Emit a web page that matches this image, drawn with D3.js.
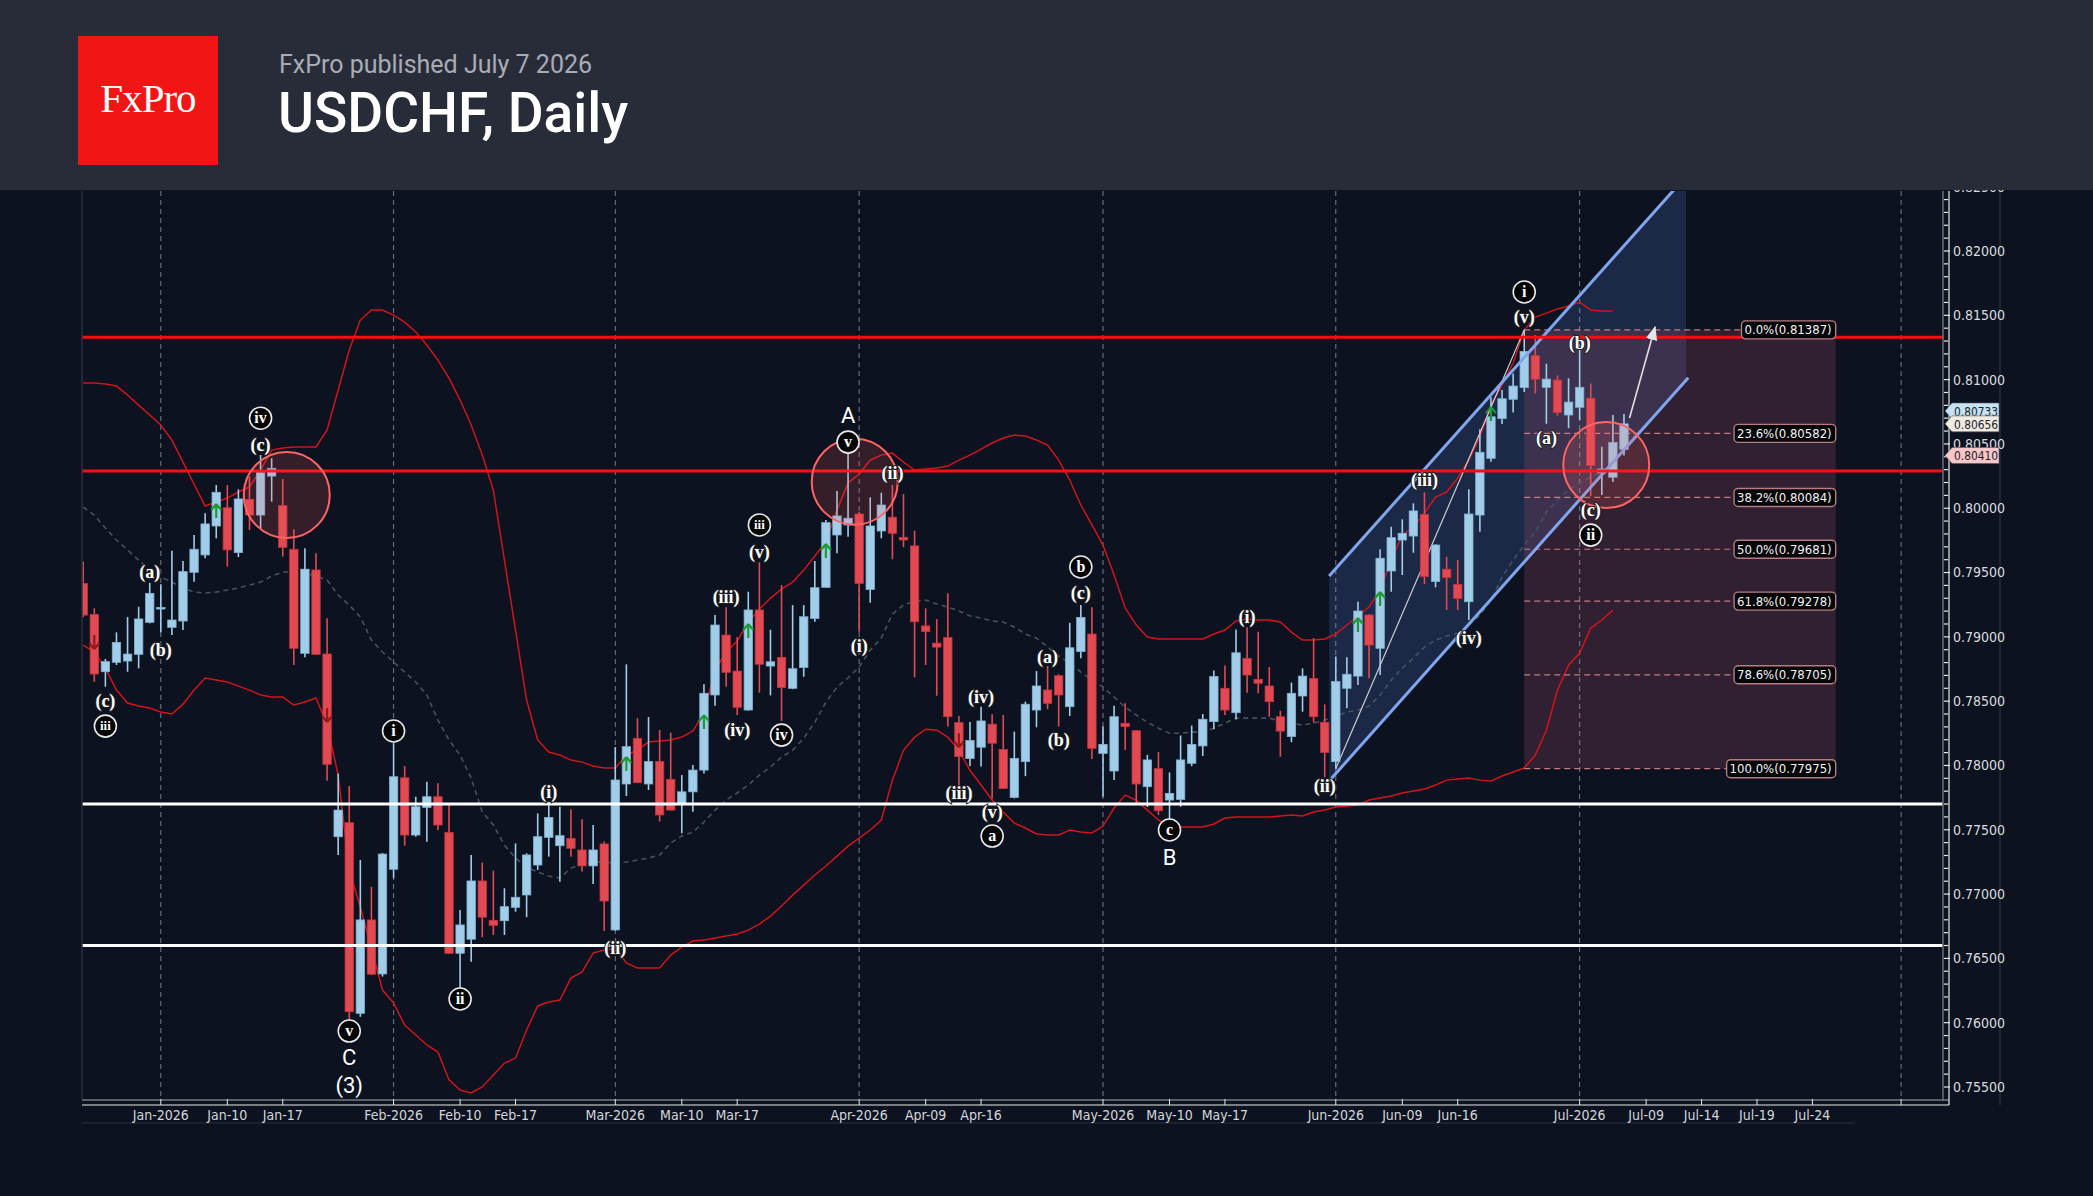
<!DOCTYPE html>
<html><head><meta charset="utf-8">
<script src="https://cdn.jsdelivr.net/npm/d3@7"></script>
<style>
html,body{margin:0;padding:0;background:#0c1220;}
svg{display:block;}
</style></head><body>
<svg id="c" width="2093" height="1196"></svg>
<script>
// ---------------- DATA ----------------
const open=[0.79416,0.79175,0.78729,0.78802,0.78812,0.78864,0.79113,0.79222,0.79074,0.79123,
0.79502,0.79637,0.79862,0.80004,0.79655,0.80069,0.79947,0.80250,0.80020,0.79681,
0.78872,0.79520,0.78867,0.77446,0.77555,0.76073,0.76799,0.76379,0.77193,0.77904,
0.77459,0.77674,0.77757,0.77480,0.76540,0.76649,0.77102,0.76796,0.76793,0.76897,
0.76993,0.77226,0.77441,0.77376,0.77433,0.77343,0.77219,0.77390,0.76721,0.77856,
0.78211,0.77856,0.78030,0.77892,0.77705,0.77795,0.77964,0.78548,0.79014,0.78734,
0.78431,0.79209,0.78773,0.78840,0.78600,0.78762,0.79143,0.79385,0.79792,0.79870,
0.79955,0.79369,0.79823,0.79930,0.79774,0.79707,0.79085,0.78951,0.78995,0.78333,
0.78054,0.78142,0.78321,0.78125,0.77752,0.78030,0.78431,0.78587,0.78698,0.78457,
0.78886,0.79022,0.78094,0.77957,0.78328,0.78270,0.77835,0.77975,0.77731,0.77736,
0.78017,0.78152,0.78341,0.78600,0.78410,0.78833,0.78670,0.78618,0.78379,0.78225,
0.78540,0.78677,0.78336,0.78030,0.78600,0.78695,0.79170,0.78911,0.79512,0.79753,
0.79784,0.79953,0.79430,0.79526,0.79408,0.79273,0.79947,0.80388,0.80697,0.80847,
0.80938,0.81186,0.80940,0.80997,0.80725,0.80785,0.80856,0.80274,0.80241,0.80458];
const high=[0.79584,0.79222,0.78828,0.79035,0.79155,0.79234,0.79420,0.79408,0.79670,0.79590,
0.79792,0.79961,0.80181,0.80181,0.80147,0.80245,0.80414,0.80388,0.80227,0.79836,
0.79689,0.79650,0.79144,0.77938,0.77840,0.77265,0.77057,0.77319,0.78173,0.77995,
0.77757,0.77874,0.77861,0.77692,0.76876,0.77304,0.77245,0.77182,0.77045,0.77394,
0.77317,0.77627,0.77718,0.77679,0.77659,0.77581,0.77537,0.77408,0.78143,0.78786,
0.78367,0.78377,0.78276,0.78255,0.77925,0.78003,0.78631,0.79170,0.79230,0.78998,
0.79351,0.79580,0.79055,0.79403,0.79247,0.79247,0.79590,0.79909,0.80134,0.80427,
0.79970,0.80085,0.80121,0.80181,0.80111,0.79825,0.79222,0.79138,0.79338,0.78385,
0.78337,0.78457,0.78398,0.78392,0.78263,0.78496,0.78734,0.78773,0.78709,0.79109,
0.79247,0.79230,0.78302,0.78465,0.78483,0.78275,0.78082,0.78104,0.77946,0.78233,
0.78310,0.78400,0.78738,0.78777,0.79058,0.79074,0.79039,0.78765,0.78426,0.78644,
0.78755,0.78990,0.78475,0.78847,0.78841,0.79273,0.79175,0.79681,0.79856,0.79914,
0.80038,0.80124,0.79720,0.79623,0.79598,0.80147,0.80614,0.80862,0.80919,0.81048,
0.81387,0.81347,0.81124,0.81032,0.81010,0.81270,0.80969,0.80478,0.80725,0.80733];
const low=[0.79152,0.78651,0.78612,0.78781,0.78729,0.78755,0.79105,0.79035,0.79014,0.79053,
0.79429,0.79611,0.79766,0.79546,0.79620,0.79831,0.79844,0.80051,0.79623,0.78781,
0.78841,0.78860,0.77881,0.77304,0.76021,0.76046,0.76370,0.76358,0.77123,0.77376,
0.77446,0.77407,0.77498,0.76535,0.76124,0.76474,0.76665,0.76682,0.76682,0.76863,
0.76820,0.77188,0.77291,0.77096,0.77291,0.77175,0.77078,0.76713,0.76715,0.77762,
0.77862,0.77809,0.77563,0.77650,0.77472,0.77640,0.77938,0.78465,0.78612,0.78392,
0.78426,0.78566,0.78545,0.78346,0.78593,0.78690,0.79117,0.79385,0.79650,0.79779,
0.79039,0.79265,0.79766,0.79603,0.79696,0.78685,0.78781,0.78542,0.78302,0.77824,
0.77995,0.77992,0.77744,0.77818,0.77744,0.77917,0.78297,0.78437,0.78302,0.78385,
0.78833,0.78051,0.77757,0.77887,0.78120,0.77705,0.77677,0.77615,0.77581,0.77679,
0.77995,0.78074,0.78281,0.78392,0.78358,0.78566,0.78561,0.78379,0.78068,0.78181,
0.78418,0.78333,0.77909,0.77975,0.78444,0.78626,0.78678,0.78703,0.79351,0.79481,
0.79654,0.79411,0.79385,0.79209,0.79209,0.79130,0.79818,0.80362,0.80655,0.80744,
0.80903,0.80893,0.80657,0.80720,0.80622,0.80686,0.80095,0.80103,0.80204,0.80410];
const close=[0.79169,0.78711,0.78807,0.78957,0.78866,0.79139,0.79338,0.79228,0.79131,0.79507,
0.79681,0.79878,0.80124,0.79676,0.80072,0.79947,0.80276,0.80310,0.79696,0.78911,
0.79526,0.78864,0.78009,0.77653,0.76085,0.76799,0.76377,0.77311,0.77912,0.77459,
0.77679,0.77757,0.77537,0.76540,0.76760,0.77102,0.76820,0.76757,0.76902,0.76975,
0.77304,0.77446,0.77596,0.77454,0.77356,0.77219,0.77343,0.76946,0.77887,0.78146,
0.77866,0.78030,0.77615,0.77653,0.77795,0.77964,0.78561,0.79092,0.78724,0.78452,
0.79209,0.78787,0.78806,0.78605,0.78752,0.79156,0.79382,0.79888,0.79940,0.79922,
0.79416,0.79862,0.80025,0.79805,0.79753,0.79117,0.79041,0.78920,0.78379,0.78068,
0.78194,0.78346,0.78173,0.77821,0.78055,0.78476,0.78618,0.78483,0.78548,0.78915,
0.79151,0.78133,0.78164,0.78379,0.78302,0.77856,0.78043,0.77648,0.77783,0.78043,
0.78164,0.78359,0.78691,0.78431,0.78876,0.78703,0.78639,0.78496,0.78267,0.78561,
0.78695,0.78379,0.78100,0.78652,0.78709,0.79201,0.78936,0.79611,0.79771,0.79805,
0.79979,0.79468,0.79714,0.79460,0.79299,0.79955,0.80435,0.80711,0.80851,0.80950,
0.81219,0.81003,0.81004,0.80744,0.80825,0.80940,0.80332,0.80305,0.80511,0.80656];

const bbUpper=[0.80973,0.80973,0.80965,0.8095,0.8088,0.80802,0.80725,0.80647,0.8053,0.80359,
0.80188,0.80017,0.80048,0.80079,0.80126,0.80165,0.80297,0.80452,0.80468,0.80476,
0.80476,0.80476,0.80608,0.80919,0.8123,0.81463,0.81541,0.81541,0.81502,0.81447,
0.8137,0.81269,0.81152,0.81012,0.80841,0.80647,0.80413,0.80141,0.79597,0.79053,
0.78509,0.78198,0.78104,0.78081,0.78042,0.78026,0.77995,0.7798,0.7798,0.78081,
0.7812,0.78182,0.7819,0.78198,0.78221,0.78268,0.78407,0.78742,0.78882,0.78967,
0.79115,0.79216,0.79301,0.79371,0.79426,0.79519,0.79628,0.79737,0.79986,0.80196,
0.80266,0.80374,0.80413,0.80429,0.80359,0.80297,0.80305,0.80312,0.80328,0.80374,
0.80413,0.8046,0.80507,0.80546,0.80569,0.80561,0.8053,0.80491,0.80374,0.80219,
0.80025,0.7987,0.79714,0.79481,0.79224,0.79092,0.78998,0.78983,0.78983,0.78983,
0.78983,0.78983,0.79022,0.79053,0.79123,0.79138,0.79131,0.79131,0.79115,0.79037,
0.78975,0.78975,0.78983,0.79022,0.79092,0.79162,0.79232,0.79364,0.79597,0.79791,
0.79854,0.79962,0.80087,0.80126,0.80235,0.80374,0.80553,0.80802,0.80958,0.81129,
0.81385,0.81486,0.81517,0.81549,0.81572,0.81603,0.81541,0.81533,0.81533];
const bbMid=[0.80009,0.79947,0.79846,0.79753,0.79675,0.79597,0.7952,0.79465,0.79426,0.7938,
0.79348,0.79341,0.79348,0.79364,0.7938,0.79403,0.79426,0.79473,0.79504,0.79504,
0.79496,0.79473,0.79442,0.79325,0.79247,0.79154,0.78975,0.78882,0.78804,0.78726,
0.78649,0.78547,0.78353,0.78198,0.78081,0.77902,0.77638,0.77537,0.77381,0.7728,
0.7721,0.77171,0.7714,0.77125,0.77202,0.77233,0.77249,0.77249,0.77241,0.77249,
0.77265,0.7728,0.77303,0.77397,0.77451,0.77482,0.7756,0.77653,0.77731,0.77786,
0.77848,0.77925,0.77988,0.78065,0.78118,0.78212,0.78336,0.78492,0.78609,0.7868,
0.78765,0.78897,0.7899,0.79177,0.79247,0.79278,0.79286,0.79255,0.79232,0.79201,
0.79162,0.79146,0.79123,0.79115,0.79076,0.79022,0.7899,0.78921,0.78851,0.78796,
0.78726,0.78664,0.78609,0.78532,0.78454,0.78392,0.78336,0.7829,0.78251,0.78251,
0.78259,0.78259,0.7829,0.78329,0.78368,0.78368,0.78368,0.78368,0.78345,0.78329,
0.78314,0.78329,0.78353,0.78384,0.78415,0.78431,0.78462,0.78547,0.78664,0.78757,
0.78835,0.78921,0.78975,0.79006,0.79029,0.79092,0.79169,0.79286,0.79465,0.79597,
0.79714,0.79815,0.79971,0.80064,0.80141,0.80196,0.80243,0.80281,0.8032];
const bbLower=[0.78936,0.78882,0.78757,0.78586,0.78485,0.78462,0.78446,0.78415,0.784,0.78477,
0.78586,0.7868,0.78664,0.78649,0.78617,0.78586,0.78547,0.78532,0.78532,0.7847,
0.78493,0.78524,0.78314,0.77925,0.77187,0.76899,0.7658,0.76254,0.76153,0.75982,
0.75904,0.75827,0.75772,0.75555,0.75477,0.75454,0.755,0.75593,0.75686,0.75725,
0.75943,0.7613,0.76161,0.76176,0.76347,0.76394,0.76541,0.76565,0.7658,0.76464,
0.76425,0.76425,0.76425,0.76526,0.76588,0.76635,0.76643,0.76658,0.76674,0.76689,
0.7672,0.76767,0.76829,0.76907,0.76992,0.7707,0.77148,0.77218,0.77295,0.77373,
0.77435,0.77498,0.77576,0.77886,0.78118,0.7822,0.78282,0.78274,0.7822,0.78118,
0.77963,0.77848,0.77731,0.77638,0.77552,0.77514,0.77467,0.77459,0.77459,0.77498,
0.77482,0.77475,0.77529,0.77669,0.7777,0.77731,0.77653,0.77576,0.77521,0.77521,
0.77521,0.77521,0.77545,0.77591,0.77599,0.77599,0.77599,0.77599,0.77607,0.77614,
0.77607,0.77638,0.77653,0.77677,0.77684,0.77692,0.77731,0.77747,0.77762,0.77786,
0.77801,0.77817,0.77848,0.77886,0.77894,0.77902,0.77886,0.77879,0.77918,0.77949,
0.7798,0.78081,0.78274,0.78586,0.7878,0.78874,0.79068,0.79131,0.79208];

const tickBars=[7,13,18,28,34,39,48,54,59,70,76,81,92,98,103,113,119,124,135,141,146,151,156];
const tickLabels=["Jan-2026","Jan-10","Jan-17","Feb-2026","Feb-10","Feb-17","Mar-2026","Mar-10","Mar-17",
"Apr-2026","Apr-09","Apr-16","May-2026","May-10","May-17","Jun-2026","Jun-09","Jun-16",
"Jul-2026","Jul-09","Jul-14","Jul-19","Jul-24"];
const monthBars=[7,28,48,70,92,113,135,164];

const redLevels=[0.8133,0.8029];
const whiteLevels=[0.7770,0.7660];

const fibPct=["0.0%","23.6%","38.2%","50.0%","61.8%","78.6%","100.0%"];
const fibPrice=[0.81387,0.80582,0.80084,0.79681,0.79278,0.78705,0.77975];
const fibBars=[130,158.1];

const channelUpper=[[112.4,0.79473],[145.5,0.82668]];
const channelLower=[[112.4,0.77879],[144.8,0.81015]];
const channelRightBar=144.6;
const trendLine=[[113,0.77975],[130,0.81387]];
const projArrow=[[139.5,0.80702],[141.8,0.81409]];

const circleBars=[18.36,69.6,137.4];
const circlePrices=[0.80103,0.80206,0.80336];

const upArrowBars=[12,49,56,60,67,115,117,127];
const downArrowBars=[1,22,79];

const waveText=["(c)","iii","(a)","(b)","iv","(c)","v","C","(3)","i","ii","(i)","(ii)","(iii)","(iv)","iii","(v)","iv","v","A","(i)","(ii)","(iii)","(iv)","(v)","a","(a)","(b)","b","(c)","c","B","(i)","(ii)","(iii)","(iv)","i","(v)","(a)","(b)","(c)","ii"];
const waveBar=[2,2,6,7,16,16,24,24,24,28,34,42,48,58,59,61,61,63,69,69,70,73,79,81,82,82,87,88,90,90,98,98,105,112,121,125,130,130,132,135,136,136];
const wavePrice=[0.78501,0.78306,0.795,0.78897,0.807,0.8049,0.75935,0.75733,0.75515,0.78268,0.76184,0.77793,0.76581,0.79309,0.78275,0.7987,0.79659,0.78236,0.80514,0.80724,0.78928,0.80274,0.77786,0.78532,0.77638,0.77451,0.78843,0.78198,0.79543,0.79341,0.77498,0.77288,0.79154,0.7784,0.80219,0.78991,0.81681,0.81486,0.80546,0.81284,0.79986,0.79791];
const waveKind=["p","c","p","p","c","p","c","s","s","c","c","p","p","p","p","c","p","c","c","s","p","p","p","p","p","c","p","p","c","p","c","s","p","p","p","p","c","p","p","p","p","c"];

const priceTags=[0.80733,0.80656,0.80410];
const priceTagFill=["#c4e4f6","#efeae2","#f7c6c9"];

// ---------------- DRAW ----------------
const svg=d3.select('#c');
const P={l:82,r:1943,t:191,b:1100};
const x=d3.scaleLinear().domain([-0.11,167.78]).range([P.l,P.r]);
const y=d3.scaleLinear().domain([0.755,0.82]).range([1087,251]);
const NARROW="'Liberation Sans Narrow','Arial Narrow','DejaVu Sans Condensed',sans-serif";

svg.append('rect').attr('width',2093).attr('height',1196).attr('fill','#0c1220');
const defs=svg.append('defs');
defs.append('clipPath').attr('id','plot').append('rect')
  .attr('x',P.l).attr('y',P.t).attr('width',P.r-P.l).attr('height',P.b-P.t);
defs.append('marker').attr('id','ah').attr('viewBox','0 0 10 10').attr('refX',9).attr('refY',5)
  .attr('markerWidth',9).attr('markerHeight',9).attr('orient','auto-start-reverse')
  .append('path').attr('d','M0,1 L10,5 L0,9 Z').attr('fill','#e6e6e6');

const g=svg.append('g').attr('clip-path','url(#plot)');

// channel fill
function lineAt(pts,b){const [a,c]=pts;return a[1]+(c[1]-a[1])*(b-a[0])/(c[0]-a[0]);}
const cL=channelUpper[0][0], cR=channelRightBar;
g.append('path').attr('d',d3.line()([
  [x(cL),y(lineAt(channelUpper,cL))],[x(cR),y(lineAt(channelUpper,cR))],
  [x(cR),y(lineAt(channelLower,cR))],[x(cL),y(lineAt(channelLower,cL))]])+'Z')
  .attr('fill','rgba(90,130,225,0.20)');
// fib rect
g.append('rect').attr('x',x(fibBars[0])).attr('width',x(fibBars[1])-x(fibBars[0]))
  .attr('y',y(fibPrice[0])).attr('height',y(fibPrice[fibPrice.length-1])-y(fibPrice[0]))
  .attr('fill','rgba(205,95,120,0.19)');

// month lines
g.selectAll('.ml').data(monthBars).join('line')
  .attr('x1',d=>x(d)).attr('x2',d=>x(d)).attr('y1',P.t).attr('y2',P.b)
  .attr('stroke','#9aa0aa').attr('stroke-width',1).attr('stroke-dasharray','5,4').attr('opacity',0.75);

// Bollinger bands
const bl=d3.line().x((d,i)=>x(i)).y(d=>y(d));
g.append('path').attr('d',bl(bbUpper)).attr('fill','none').attr('stroke','#d0151b').attr('stroke-width',1.5);
g.append('path').attr('d',bl(bbLower)).attr('fill','none').attr('stroke','#d0151b').attr('stroke-width',1.5);
g.append('path').attr('d',bl(bbMid)).attr('fill','none').attr('stroke','#43535f').attr('stroke-width',1.6).attr('stroke-dasharray','5,4');

// fib dashed lines
g.selectAll('.fl').data(fibPrice).join('line')
  .attr('x1',x(fibBars[0])).attr('x2',x(fibBars[1])-70).attr('y1',d=>y(d)).attr('y2',d=>y(d))
  .attr('stroke','rgba(225,140,140,0.85)').attr('stroke-width',1.2).attr('stroke-dasharray','6,4');

// trend line
g.append('line').attr('x1',x(trendLine[0][0])).attr('y1',y(trendLine[0][1]))
  .attr('x2',x(trendLine[1][0])).attr('y2',y(trendLine[1][1]))
  .attr('stroke','rgba(235,235,235,0.85)').attr('stroke-width',1.2);

// candles
const idx=d3.range(open.length);
const BLUE='#a2cde8', RED='#e24a53';
const cg=g.append('g');
cg.selectAll('.wk').data(idx).join('line')
  .attr('x1',i=>x(i)).attr('x2',i=>x(i)).attr('y1',i=>y(high[i])).attr('y2',i=>y(low[i]))
  .attr('stroke',i=>close[i]>=open[i]?BLUE:RED).attr('stroke-width',1.6);
cg.selectAll('.bd').data(idx).join('rect')
  .attr('x',i=>x(i)-4.2).attr('width',8.4)
  .attr('y',i=>y(Math.max(open[i],close[i])))
  .attr('height',i=>Math.max(1.5,Math.abs(y(open[i])-y(close[i]))))
  .attr('fill',i=>close[i]>=open[i]?BLUE:RED)
  .attr('stroke',i=>close[i]>=open[i]?'#7fb3d3':'#c8323b').attr('stroke-width',0.8);

// channel lines
[channelUpper,channelLower].forEach(c=>{
  g.append('line').attr('x1',x(c[0][0])).attr('y1',y(c[0][1])).attr('x2',x(c[1][0])).attr('y2',y(c[1][1]))
   .attr('stroke','#80a6ee').attr('stroke-width',3);
});

// horizontal S/R lines
g.selectAll('.rl').data(redLevels).join('line')
  .attr('x1',P.l).attr('x2',P.r).attr('y1',d=>y(d)).attr('y2',d=>y(d))
  .attr('stroke','#ff0d0d').attr('stroke-width',3);
g.selectAll('.wl').data(whiteLevels).join('line')
  .attr('x1',P.l).attr('x2',P.r).attr('y1',d=>y(d)).attr('y2',d=>y(d))
  .attr('stroke','#ffffff').attr('stroke-width',3);

// signal arrows
upArrowBars.forEach(b=>{
  const xx=x(b), yy=y(bbUpper[b])+2;
  g.append('path').attr('d',`M${xx},${yy} L${xx-5},${yy+6} M${xx},${yy} L${xx+5},${yy+6} M${xx},${yy} L${xx},${yy+14}`)
   .attr('stroke','#1c9a35').attr('stroke-width',2.2).attr('fill','none');
});
downArrowBars.forEach(b=>{
  const xx=x(b), yy=y(bbLower[b])-3;
  g.append('path').attr('d',`M${xx},${yy} L${xx-5},${yy-6} M${xx},${yy} L${xx+5},${yy-6} M${xx},${yy} L${xx},${yy-14}`)
   .attr('stroke','#8e1b1e').attr('stroke-width',2.2).attr('fill','none');
});

// circles
g.selectAll('.cc').data(circleBars).join('circle')
  .attr('cx',d=>x(d)).attr('cy',(d,i)=>y(circlePrices[i])).attr('r',43)
  .attr('fill','rgba(255,95,95,0.17)').attr('stroke','#ff6464').attr('stroke-width',2);

// projection arrow
g.append('line').attr('x1',x(projArrow[0][0])).attr('y1',y(projArrow[0][1]))
  .attr('x2',x(projArrow[1][0])).attr('y2',y(projArrow[1][1]))
  .attr('stroke','#e0e0e0').attr('stroke-width',1.6).attr('marker-end','url(#ah)');

// fib labels
const fg=svg.append('g');
fibPrice.forEach((p,i)=>{
  const t=fg.append('text').attr('x',x(fibBars[1])-4).attr('y',y(p)).attr('dy','0.35em')
    .attr('text-anchor','end').attr('font-family',NARROW).attr('font-size',13).attr('fill','#f2f2f2')
    .text(`${fibPct[i]}(${p.toFixed(5)})`);
  const w=t.node().getComputedTextLength();
  fg.insert('rect','text').attr('x',x(fibBars[1])-w-7).attr('y',y(p)-9).attr('width',w+7).attr('height',18)
    .attr('rx',4).attr('fill','#050608').attr('stroke','#b77c80').attr('stroke-width',1.4);
});

// wave labels
const wg=svg.append('g');
waveText.forEach((t,i)=>{
  const cx=x(waveBar[i]), cy=y(wavePrice[i]), k=waveKind[i];
  if(k==='c'){
    wg.append('circle').attr('cx',cx).attr('cy',cy).attr('r',11).attr('fill','#050505')
      .attr('stroke','#e8e8e8').attr('stroke-width',1.6);
    wg.append('text').attr('x',cx).attr('y',cy).attr('dy','0.33em').attr('text-anchor','middle')
      .attr('font-family',"'Liberation Serif','DejaVu Serif',serif").attr('font-weight','bold')
      .attr('font-size',t.length>2?13:16).attr('fill','#fff').text(t);
  } else if(k==='p'){
    wg.append('text').attr('x',cx).attr('y',cy).attr('dy','0.33em').attr('text-anchor','middle')
      .attr('font-family',"'Liberation Serif','DejaVu Serif',serif").attr('font-weight','bold')
      .attr('font-size',18).attr('fill','#fff').attr('stroke','#222').attr('stroke-width',2)
      .attr('paint-order','stroke').text(t);
  } else {
    wg.append('text').attr('x',cx).attr('y',cy).attr('dy','0.36em').attr('text-anchor','middle')
      .attr('font-family',"Roboto,'Liberation Sans',sans-serif").attr('font-size',22).attr('fill','#fff').text(t);
  }
});

// frame / axes
svg.append('line').attr('x1',P.l).attr('x2',P.l).attr('y1',P.t).attr('y2',P.b).attr('stroke','#2a3140').attr('stroke-width',1.5);
svg.append('line').attr('x1',P.l).attr('x2',P.r+6).attr('y1',P.b).attr('y2',P.b).attr('stroke','#5b6068').attr('stroke-width',2);
svg.append('line').attr('x1',P.l).attr('x2',P.r+6).attr('y1',P.b+5).attr('y2',P.b+5).attr('stroke','#e8e8e8').attr('stroke-width',1.2);
svg.append('line').attr('x1',P.l).attr('x2',1855).attr('y1',1123).attr('y2',1123).attr('stroke','#2a3140').attr('stroke-width',1);
const xt=svg.append('g');
tickBars.concat([164]).forEach(b=>{
  xt.append('line').attr('x1',x(b)).attr('x2',x(b)).attr('y1',P.b-1).attr('y2',P.b+5).attr('stroke','#e8e8e8').attr('stroke-width',1);
});
xt.selectAll('text').data(tickBars).join('text')
  .attr('x',d=>x(d)).attr('y',1115).attr('dy','0.35em').attr('text-anchor','middle')
  .attr('font-family',NARROW).attr('font-size',14).attr('fill','#d4d6da')
  .text((d,i)=>tickLabels[i]);

// y axis
svg.append('line').attr('x1',P.r).attr('x2',P.r).attr('y1',P.t).attr('y2',P.b+1).attr('stroke','#6a6f78').attr('stroke-width',1.5);
svg.append('line').attr('x1',P.r+6).attr('x2',P.r+6).attr('y1',P.t).attr('y2',P.b+5).attr('stroke','#e8e8e8').attr('stroke-width',1.2);
svg.append('line').attr('x1',2000).attr('x2',2000).attr('y1',P.t).attr('y2',P.b+5).attr('stroke','#2a3140').attr('stroke-width',1.2);
const minor=d3.range(0,71).map(k=>0.755+k*0.001);
const yt=svg.append('g');
minor.forEach((v,k)=>{
  const major=k%5===0;
  yt.append('line').attr('x1',P.r+1).attr('x2',P.r+(major?7:5)).attr('y1',y(v)).attr('y2',y(v))
    .attr('stroke','#e8e8e8').attr('stroke-width',1.2);
});
const majors=d3.range(0,15).map(k=>0.755+k*0.005);
yt.selectAll('text').data(majors).join('text')
  .attr('x',1953).attr('y',d=>y(d)).attr('dy','0.35em').attr('font-family',NARROW).attr('font-size',14)
  .attr('fill','#d9dbde').text(d=>d.toFixed(5));

// price tags
priceTags.forEach((v,i)=>{
  const yy=y(v)+(i===0?-3:0), x0=P.r+2, x1=1999;
  svg.append('path').attr('d',`M${x0},${yy} L${x0+7},${yy-8} L${x1},${yy-8} L${x1},${yy+8} L${x0+7},${yy+8} Z`)
    .attr('fill',priceTagFill[i]).attr('stroke','#555').attr('stroke-width',0.6);
  svg.append('text').attr('x',x0+9).attr('y',yy).attr('dy','0.36em').attr('font-family',NARROW)
    .attr('font-size',13).attr('textLength',44).attr('lengthAdjust','spacingAndGlyphs')
    .attr('fill','#222').text(v.toFixed(5));
});

// header
svg.append('rect').attr('x',0).attr('y',0).attr('width',2093).attr('height',190).attr('fill','#282c39');
svg.append('rect').attr('x',78).attr('y',36).attr('width',140).attr('height',129).attr('fill','#f11515');
svg.append('text').attr('x',148).attr('y',112).attr('text-anchor','middle')
  .attr('font-family',"'Liberation Serif','Times New Roman',serif").attr('font-size',41)
  .attr('letter-spacing',-1).attr('fill','#fff').text('FxPro');
svg.append('text').attr('x',279).attr('y',73).attr('font-family',"Roboto,sans-serif").attr('font-size',25)
  .attr('fill','#a9acb4').text('FxPro published July 7 2026');
svg.append('text').attr('x',278).attr('y',132).attr('font-family',"Roboto,sans-serif").attr('font-size',55)
  .attr('font-weight',500).attr('fill','#ffffff').text('USDCHF, Daily');
</script>
</body></html>
